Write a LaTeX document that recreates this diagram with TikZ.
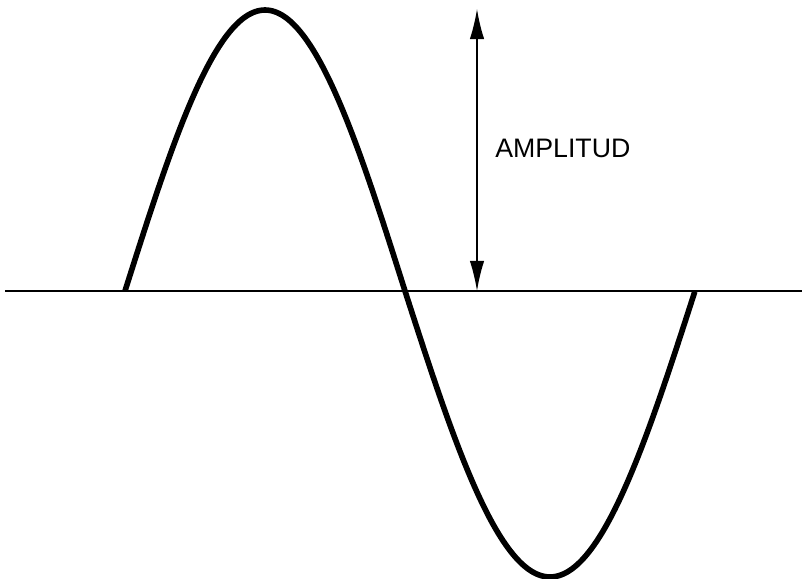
\documentclass[tikz,border=0pt]{standalone}
\usepackage{fontspec}
\setmainfont{Liberation Sans}
\usepackage{tikz}
\usetikzlibrary{arrows.meta,positioning}
\tikzset{wave/.style={line width=4pt,line cap=butt,line join=round},axisline/.style={line width=1pt},amp/.style={{Latex[length=0.75cm,width=0.36cm]}-{Latex[length=0.75cm,width=0.36cm]},line width=1pt},lbl/.style={font=\fontsize{19}{19}\selectfont,inner sep=0pt,anchor=west}}

\begin{document}
\begin{tikzpicture}[x=0.025cm,y=0.025cm]
\useasboundingbox (0,0) rectangle (804,579);
\coordinate (axl) at (5,288);
\coordinate (axr) at (802,288);
\draw[axisline] (axl)--(axr);
\draw[wave] plot[variable=\t,domain=0:1,samples=60,smooth] ({125+280*\t},{288+281*sin(180*\t)})
  -- plot[variable=\t,domain=0:1,samples=60,smooth] ({405+290*\t},{288-286*sin(180*\t)});
\coordinate (top) at (477,570);
\coordinate (bot) at (477,288);
\draw[amp] (top)--(bot);
\node[lbl] (amplitud) at (495,431) {AMPLITUD};
\end{tikzpicture}
\end{document}
